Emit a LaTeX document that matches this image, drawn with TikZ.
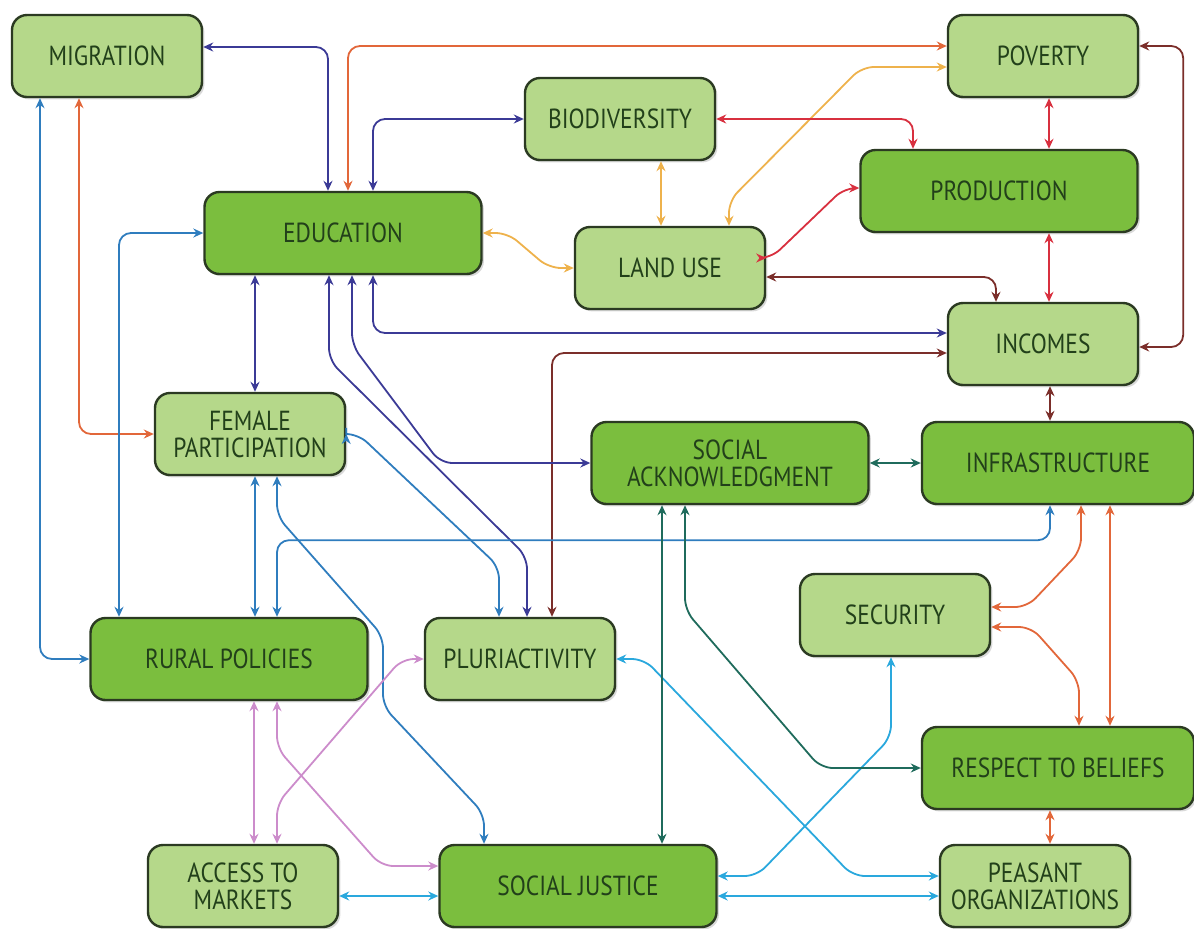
\documentclass[tikz,border=0pt]{standalone}
\usepackage{fontspec}
\setmainfont{PT Sans}[FakeStretch=0.85]
\usetikzlibrary{arrows.meta,calc,shadows}
\definecolor{paleGreen}{HTML}{B5D88A}
\definecolor{leafGreen}{HTML}{7BBE3E}
\definecolor{boxEdge}{HTML}{2B3A22}
\definecolor{boxText}{HTML}{22401A}
\definecolor{navyLine}{HTML}{3B3A96}
\definecolor{orangeLine}{HTML}{E2673A}
\definecolor{amberLine}{HTML}{EEB24C}
\definecolor{redLine}{HTML}{D8303F}
\definecolor{brownLine}{HTML}{7B2E2A}
\definecolor{blueLine}{HTML}{2F7DBE}
\definecolor{tealLine}{HTML}{1F6B5C}
\definecolor{cyanLine}{HTML}{2AA8DD}
\definecolor{pinkLine}{HTML}{CC8CCB}

\begin{document}
\begin{tikzpicture}[x=0.5pt,y=-0.5pt]
	\tikzstyle{factor}=[draw=boxEdge, line width=1.2pt, rounded corners=7.5pt, text=boxText, align=center, minimum height=41pt, inner sep=0pt, font=\fontsize{13.8}{13.5}\selectfont, drop shadow={shadow xshift=1.2pt, shadow yshift=-1.2pt, opacity=0.3}]
	\tikzstyle{minor}=[factor, fill=paleGreen, minimum width=95pt]
	\tikzstyle{major}=[factor, fill=leafGreen, minimum width=138.5pt]
	\tikzstyle{link}=[{Stealth[length=5pt,width=4.5pt]}-{Stealth[length=5pt,width=4.5pt]}, line width=0.9pt, rounded corners=6pt]
	\useasboundingbox (0,0) rectangle (1194,928);
	\node[minor] (mig) at (107,56) {MIGRATION};
	\node[minor] (pov) at (1043,56) {POVERTY};
	\node[minor] (bio) at (620,119) {BIODIVERSITY};
	\node[major] (prod) at (999,191) {PRODUCTION};
	\node[major] (edu) at (343,233) {EDUCATION};
	\node[minor] (land) at (670,268) {LAND USE};
	\node[minor] (inc) at (1043,344) {INCOMES};
	\node[minor] (fem) at (250,434) {FEMALE\\PARTICIPATION};
	\node[major] (sack) at (730,463) {SOCIAL\\ACKNOWLEDGMENT};
	\node[major, minimum width=136pt] (infra) at (1058,463) {INFRASTRUCTURE};
	\node[minor] (sec) at (895,615) {SECURITY};
	\node[major] (rural) at (229,659) {RURAL POLICIES};
	\node[minor] (plur) at (520,659) {PLURIACTIVITY};
	\node[major, minimum width=136pt] (resp) at (1058,768) {RESPECT TO BELIEFS};
	\node[minor] (acc) at (243,886) {ACCESS TO\\MARKETS};
	\node[major] (sjus) at (578,886) {SOCIAL JUSTICE};
	\node[minor] (peas) at (1035,886) {PEASANT\\ORGANIZATIONS};

	\draw[link, navyLine] ($(mig.east)+(0,-9)$) -| ($(edu.north)+(-15,0)$);
	\draw[link, orangeLine] ($(edu.north)+(5,0)$) |- ($(pov.west)+(0,-10)$);
	\draw[link, navyLine] ($(edu.north)+(30,0)$) |- (bio.west);
	\draw[link, amberLine] (edu.east) -- ++(25,0) -- ($(land.west)+(-25,0)$) -- (land.west);
	\draw[link, amberLine] ($(bio.south)+(41,0)$) -- ($(land.north)+(-9,0)$);
	\draw[link, amberLine] ($(land.north)+(59,0)$) -- ++(0,-25) -- ($(pov.west)+(-85,11)$) -- ($(pov.west)+(0,11)$);
	\draw[link, redLine] (bio.east) -| ($(prod.north)+(-86,0)$);
	\draw[link, redLine] ($(land.east)+(0,-10)$) -- ++(5,0) -- ($(prod.west)+(-15,-3)$) -- ($(prod.west)+(0,-3)$);
	\draw[link, redLine] ($(pov.south)+(6,0)$) -- ($(prod.north)+(50,0)$);
	\draw[link, redLine] ($(prod.south)+(50,0)$) -- ($(inc.north)+(6,0)$);
	\draw[link, brownLine] ($(land.east)+(0,9)$) -| ($(inc.north)+(-47,0)$);
	\draw[link, brownLine] ($(pov.east)+(0,-10)$) -- ($(pov.east)+(44,-10)$) -- ($(inc.east)+(44,3)$) -- ($(inc.east)+(0,3)$);
	\draw[link, navyLine] ($(edu.south)+(30,0)$) |- ($(inc.west)+(0,-11)$);
	\draw[link, brownLine] ($(inc.west)+(0,9)$) -| ($(plur.north)+(32,0)$);
	\draw[link, navyLine] ($(edu.south)+(-88,0)$) -- ($(fem.north)+(5,0)$);
	\draw[link, orangeLine] ($(mig.south)+(-28,0)$) |- (fem.west);
	\draw[link, blueLine] ($(mig.south)+(-67,0)$) |- (rural.west);
	\draw[link, blueLine] (edu.west) -| ($(rural.north)+(-110,0)$);
	\draw[link, navyLine] ($(edu.south)+(9,0)$) -- ++(0,70) -- ($(sack.west)+(-150,0)$) -- (sack.west);
	\draw[link, navyLine] ($(edu.south)+(-14,0)$) -- ++(0,85) -- ($(plur.north)+(7,-60)$) -- ($(plur.north)+(7,0)$);
	\draw[link, blueLine] (fem.east) -- ++(12,0) -- ($(plur.north)+(-21,-50)$) -- ($(plur.north)+(-21,0)$);
	\draw[link, blueLine] ($(fem.south)+(5,0)$) -- ($(rural.north)+(26,0)$);
	\draw[link, blueLine] ($(rural.north)+(48,0)$) |- ($(infra.south)+(-8,35)$) -- ($(infra.south)+(-8,0)$);
	\draw[link, blueLine] ($(fem.south)+(27,0)$) -- ++(0,40) -- ++(106,120) -- ++(0,70) -- ($(sjus.north)+(-94,-30)$) -- ($(sjus.north)+(-94,0)$);
	\draw[link, pinkLine] ($(rural.south)+(25,0)$) -- ($(acc.north)+(11,0)$);
	\draw[link, pinkLine] ($(acc.north)+(34,0)$) -- ++(0,-40) -- ($(plur.west)+(-22,0)$) -- (plur.west);
	\draw[link, pinkLine] ($(rural.south)+(48,0)$) -- ++(0,47) -- ($(sjus.west)+(-57,-20)$) -- ($(sjus.west)+(0,-20)$);
	\draw[link, cyanLine] ($(acc.east)+(0,10)$) -- ($(sjus.west)+(0,10)$);
	\draw[link, cyanLine] (plur.east) -- ++(28,0) -- ($(peas.west)+(-86,-10)$) -- ($(peas.west)+(0,-10)$);
	\draw[link, cyanLine] ($(sjus.east)+(0,-10)$) -- ++(39,0) -- ($(sec.south)+(-4,80)$) -- ($(sec.south)+(-4,0)$);
	\draw[link, cyanLine] ($(sjus.east)+(0,10)$) -- ($(peas.west)+(0,10)$);
	\draw[link, tealLine] ($(sack.south)+(-68,0)$) -- ($(sjus.north)+(84,0)$);
	\draw[link, tealLine] ($(sack.south)+(-45,0)$) -- ++(0,105) -- ($(resp.west)+(-100,0)$) -- (resp.west);
	\draw[link, tealLine] (sack.east) -- (infra.west);
	\draw[link, brownLine] ($(inc.south)+(7,0)$) -- ($(infra.north)+(-8,0)$);
	\draw[link, orangeLine] ($(infra.south)+(23,0)$) -- ++(0,45) -- ($(sec.east)+(36,-8)$) -- ($(sec.east)+(0,-8)$);
	\draw[link, orangeLine] ($(infra.south)+(52,0)$) -- ($(resp.north)+(52,0)$);
	\draw[link, orangeLine] ($(sec.east)+(0,12)$) -- ++(40,0) -- ($(resp.north)+(21,-45)$) -- ($(resp.north)+(21,0)$);
	\draw[link, orangeLine] ($(resp.south)+(-8,0)$) -- ($(peas.north)+(15,0)$);
\end{tikzpicture}
\end{document}
